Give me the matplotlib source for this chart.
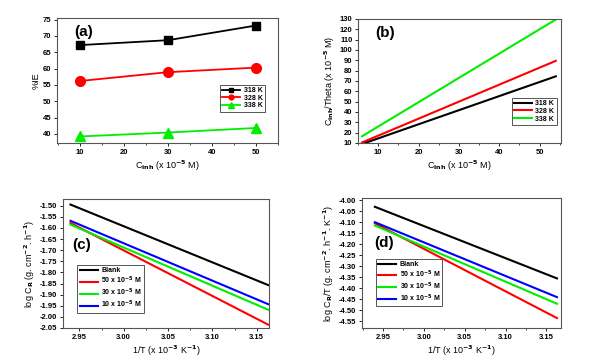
import numpy as np
import matplotlib
matplotlib.use('Agg')
import matplotlib.pyplot as plt
import matplotlib.ticker as ticker

plt.rcParams['font.family'] = 'Liberation Sans'
plt.rcParams['font.weight'] = 'bold'
plt.rcParams['mathtext.default'] = 'bf'
plt.rcParams['axes.linewidth'] = 0.8

# (a) inhibition efficiency
conc_a = [10, 30, 50]
ie_318 = [67.2, 68.7, 73.2]
ie_328 = [56.2, 58.9, 60.3]
ie_338 = [39.2, 40.4, 41.8]

# (b) Langmuir isotherm fits
conc_b = [6, 54]
lang_318 = [9.0, 74.5]
lang_328 = [10.5, 89.5]
lang_338 = [16.5, 129.5]

# (c) Arrhenius plots
inv_t = [2.94, 3.163]
logcr_blank = [-1.495, -1.857]
logcr_50 = [-1.578, -2.035]
logcr_30 = [-1.585, -1.968]
logcr_10 = [-1.568, -1.943]

# (d) transition state plots
logcrt_blank = [-4.030, -4.355]
logcrt_50 = [-4.105, -4.535]
logcrt_30 = [-4.115, -4.470]
logcrt_10 = [-4.100, -4.440]

temps = ['318 K', '328 K', '338 K']
concs = ['Blank', r'50 x 10$^{-5}$ M', r'30 x 10$^{-5}$ M', r'10 x 10$^{-5}$ M']

TICK_FS = 5.5
LAB_FS = 6.5
LEG_FS = 5


def style(ax):
  for s in ax.spines.values():
    s.set_color('#555555')
  ax.tick_params(direction='out', length=2.5, width=0.6, labelsize=TICK_FS, pad=1.5)
  ax.tick_params(which='minor', direction='out', length=1.5, width=0.5)
  for lab in ax.get_xticklabels() + ax.get_yticklabels():
    lab.set_fontweight('bold')


def legend(ax, loc, anchor, **kw):
  leg = ax.legend(loc=loc, bbox_to_anchor=anchor, fontsize=LEG_FS, handlelength=2.6,
                  handletextpad=0.5, borderpad=0.3, labelspacing=0.1, fancybox=False,
                  framealpha=1, **kw)
  leg.get_frame().set_edgecolor('#555555')
  leg.get_frame().set_linewidth(0.7)


fig = plt.figure(figsize=(6.02, 3.58), dpi=100)

# ---- (a)
ax = fig.add_axes([0.0947, 0.6006, 0.3673, 0.3491])
ax.plot(conc_a, ie_318, '-s', color='black', lw=1.3, ms=6, label=temps[0])
ax.plot(conc_a, ie_328, '-o', color='red', lw=1.3, ms=7, label=temps[1])
ax.plot(conc_a, ie_338, '-^', color='#00ee00', lw=1.3, ms=7.5, label=temps[2])
ax.set_xlim(4.8, 55)
ax.set_ylim(37.2, 75.5)
ax.xaxis.set_major_locator(ticker.MultipleLocator(10))
ax.xaxis.set_minor_locator(ticker.MultipleLocator(5))
ax.yaxis.set_major_locator(ticker.MultipleLocator(5))
ax.set_xlabel(r'C$_{inh}$ (x 10$^{-5}$ M)', fontsize=LAB_FS, labelpad=2)
ax.set_ylabel('%IE', fontsize=LAB_FS, labelpad=2)
ax.text(0.08, 0.89, '(a)', transform=ax.transAxes, fontsize=11, fontweight='bold', va='center')
legend(ax, 'lower right', (0.955, 0.224), markerscale=0.5)
style(ax)

# ---- (b)
ax = fig.add_axes([0.5947, 0.6006, 0.3373, 0.3464])
ax.plot(conc_b, lang_318, color='black', lw=1.5, label=temps[0])
ax.plot(conc_b, lang_328, color='red', lw=1.5, label=temps[1])
ax.plot(conc_b, lang_338, color='#00ee00', lw=1.5, label=temps[2])
ax.set_xlim(5, 55.3)
ax.set_ylim(10, 130)
ax.xaxis.set_major_locator(ticker.MultipleLocator(10))
ax.xaxis.set_minor_locator(ticker.MultipleLocator(5))
ax.yaxis.set_major_locator(ticker.MultipleLocator(10))
ax.set_xlabel(r'C$_{inh}$ (x 10$^{-5}$ M)', fontsize=LAB_FS, labelpad=2)
ax.set_ylabel(r'C$_{inh}$/Theta (x 10$^{-5}$ M)', fontsize=LAB_FS, labelpad=2)
ax.text(0.085, 0.89, '(b)', transform=ax.transAxes, fontsize=11, fontweight='bold', va='center')
legend(ax, 'lower right', (0.995, 0.12))
style(ax)

# ---- (c)
ax = fig.add_axes([0.1047, 0.0838, 0.3422, 0.3603])
ax.plot(inv_t, logcr_blank, color='black', lw=1.5, label=concs[0])
ax.plot(inv_t, logcr_50, color='red', lw=1.5, label=concs[1])
ax.plot(inv_t, logcr_30, color='#00ee00', lw=1.5, label=concs[2])
ax.plot(inv_t, logcr_10, color='blue', lw=1.5, label=concs[3])
ax.set_xlim(2.9316, 3.1639)
ax.set_ylim(-2.05, -1.47)
ax.xaxis.set_major_locator(ticker.MultipleLocator(0.05))
ax.xaxis.set_minor_locator(ticker.MultipleLocator(0.025))
ax.yaxis.set_major_locator(ticker.MultipleLocator(0.05))
ax.xaxis.set_major_formatter(ticker.FormatStrFormatter('%.2f'))
ax.yaxis.set_major_formatter(ticker.FormatStrFormatter('%.2f'))
ax.set_xlabel(r'1/T (x 10$^{-3}$ K$^{-1}$)', fontsize=LAB_FS, labelpad=2)
ax.set_ylabel(r'log C$_R$ (g. cm$^{-2}$. h$^{-1}$)', fontsize=LAB_FS, labelpad=2)
ax.text(0.045, 0.64, '(c)', transform=ax.transAxes, fontsize=11, fontweight='bold', va='center')
legend(ax, 'lower left', (0.053, 0.093))
style(ax)

# ---- (d)
ax = fig.add_axes([0.601, 0.0838, 0.331, 0.3632])
ax.plot(inv_t, logcrt_blank, color='black', lw=1.5, label=concs[0])
ax.plot(inv_t, logcrt_50, color='red', lw=1.5, label=concs[1])
ax.plot(inv_t, logcrt_30, color='#00ee00', lw=1.5, label=concs[2])
ax.plot(inv_t, logcrt_10, color='blue', lw=1.5, label=concs[3])
ax.set_xlim(2.924, 3.168)
ax.set_ylim(-4.58, -3.99)
ax.xaxis.set_major_locator(ticker.MultipleLocator(0.05))
ax.xaxis.set_minor_locator(ticker.MultipleLocator(0.025))
ax.yaxis.set_major_locator(ticker.MultipleLocator(0.05))
ax.xaxis.set_major_formatter(ticker.FormatStrFormatter('%.2f'))
ax.yaxis.set_major_formatter(ticker.FormatStrFormatter('%.2f'))
ax.set_xlabel(r'1/T (x 10$^{-3}$ K$^{-1}$)', fontsize=LAB_FS, labelpad=2)
ax.set_ylabel(r'log C$_R$/T (g. cm$^{-2}$. h$^{-1}$. K$^{-1}$)', fontsize=LAB_FS, labelpad=2)
ax.text(0.06, 0.65, '(d)', transform=ax.transAxes, fontsize=11, fontweight='bold', va='center')
legend(ax, 'lower left', (0.055, 0.14))
style(ax)

fig.savefig('out.png', dpi=100)
